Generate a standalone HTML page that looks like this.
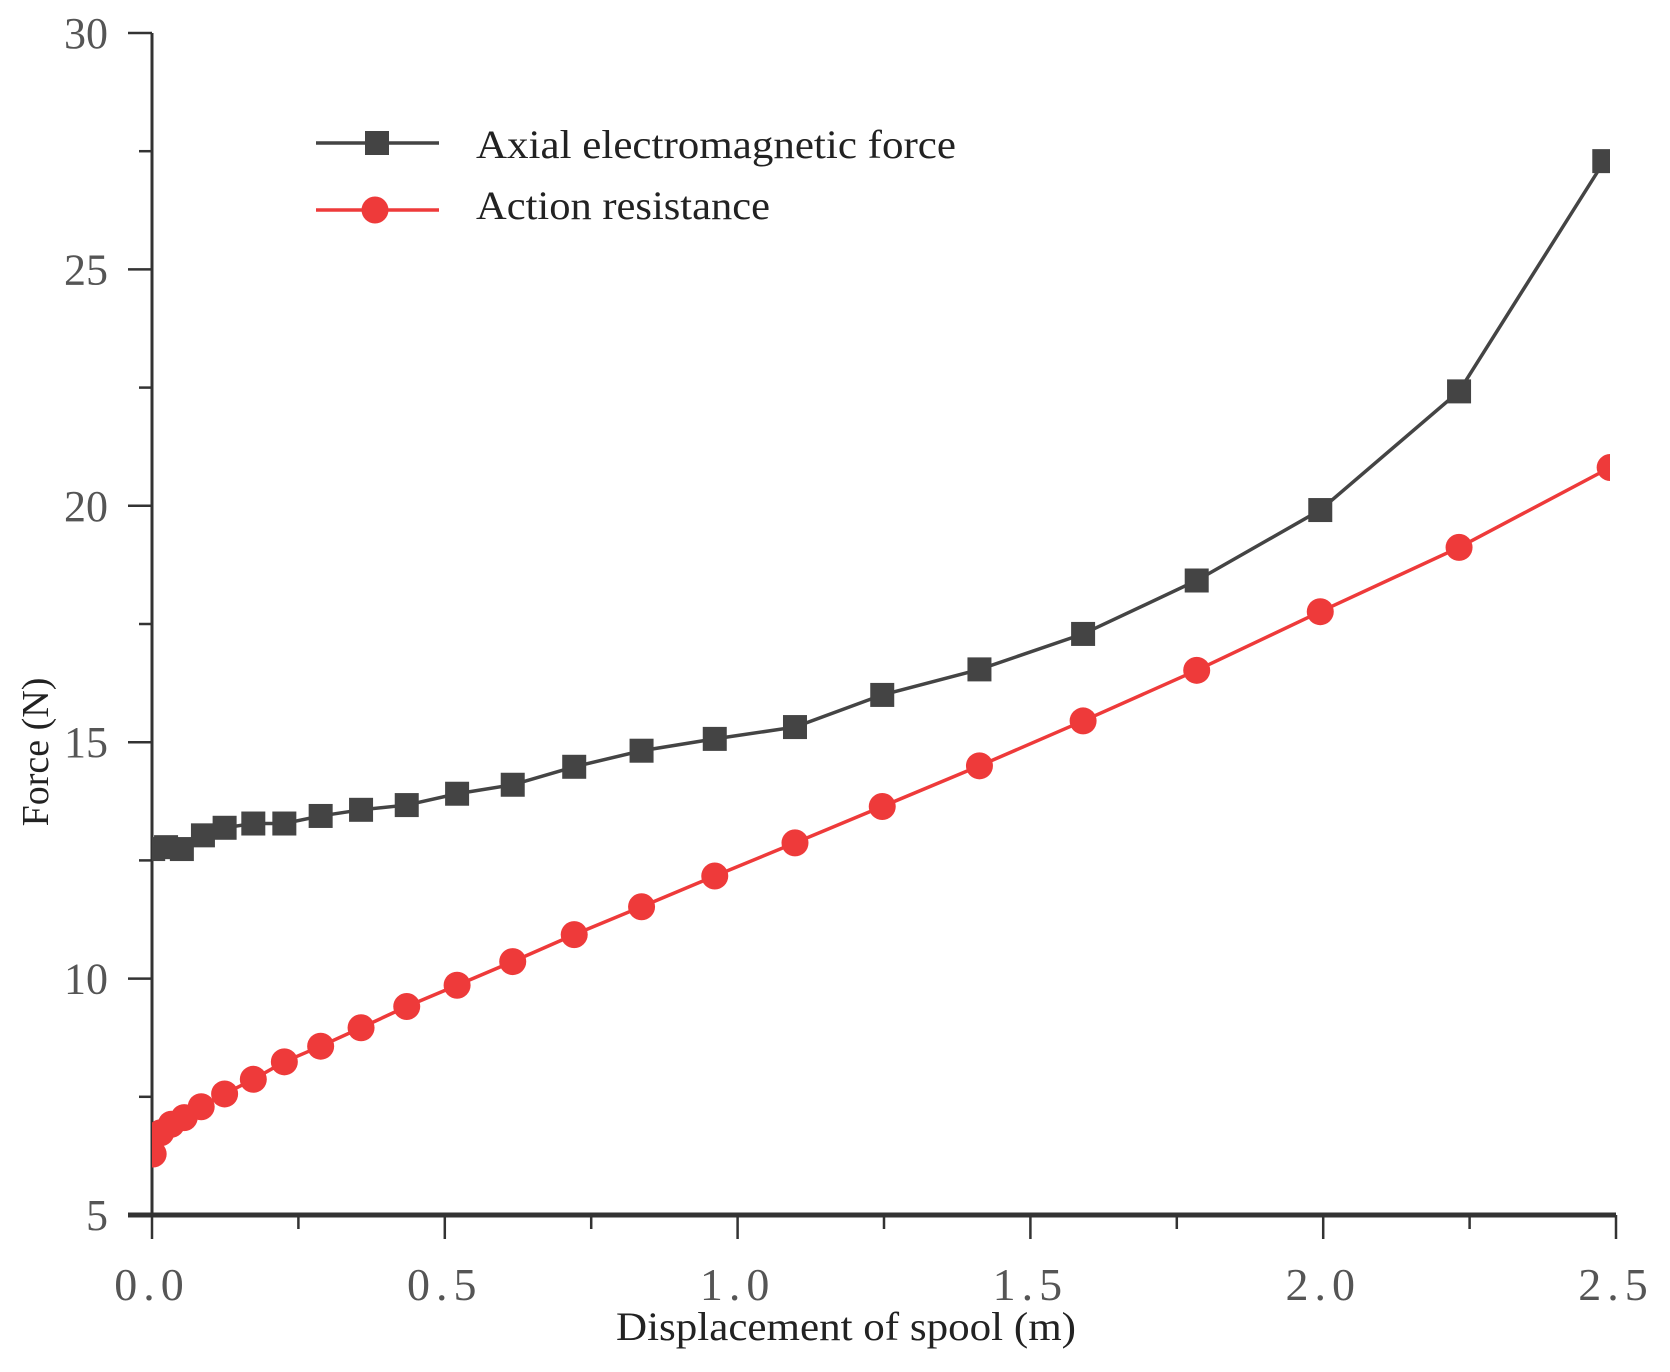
<!DOCTYPE html>
<html><head><meta charset="utf-8"><style>
html,body{margin:0;padding:0;background:#fff;}
svg{display:block;}
text{font-family:"Liberation Serif",serif;}
</style></head><body>
<svg id="chart" width="1670" height="1372" xmlns="http://www.w3.org/2000/svg">
<defs><clipPath id="plotclip"><rect x="152" y="0" width="1458" height="1215"/></clipPath></defs>
<g id="axes"></g>
<g id="series" clip-path="url(#plotclip)"></g>
<g id="legend"></g>
</svg>
<script>
const axialX=[0.002,0.024,0.051,0.087,0.124,0.173,0.226,0.288,0.357,0.435,0.521,0.616,0.721,0.836,0.961,1.098,1.247,1.413,1.590,1.784,1.995,2.232,2.480];
const axialForce=[12.74,12.78,12.74,13.03,13.19,13.28,13.28,13.44,13.57,13.67,13.91,14.10,14.48,14.82,15.07,15.32,16.00,16.54,17.29,18.42,19.91,22.42,27.29];
const resistX=[0.002,0.015,0.033,0.055,0.084,0.124,0.173,0.226,0.288,0.357,0.435,0.521,0.616,0.721,0.836,0.961,1.098,1.247,1.413,1.590,1.784,1.995,2.232,2.490];
const resistForce=[6.29,6.74,6.92,7.06,7.29,7.56,7.87,8.24,8.57,8.96,9.41,9.86,10.36,10.93,11.52,12.17,12.87,13.64,14.50,15.45,16.52,17.76,19.12,20.81];
const xTickLabels=["0.0","0.5","1.0","1.5","2.0","2.5"];
const yTickLabels=["5","10","15","20","25","30"];

const NS="http://www.w3.org/2000/svg";
const X0=152,X1=1616,Y0=1215,Y1=33,XMIN=0,XMAX=2.5,YMIN=5,YMAX=30;
const sx=v=>X0+(v-XMIN)/(XMAX-XMIN)*(X1-X0);
const sy=v=>Y0-(v-YMIN)/(YMAX-YMIN)*(Y0-Y1);
function mk(tag,attrs,parent){const e=document.createElementNS(NS,tag);for(const k in attrs)e.setAttribute(k,attrs[k]);parent.appendChild(e);return e;}
const axes=document.getElementById('axes'),series=document.getElementById('series'),legend=document.getElementById('legend');

let yl=mk('line',{x1:X0,y1:Y1,x2:X0,y2:Y0+2,stroke:'#333','stroke-width':3},axes);


let xl=mk('line',{x1:X0-24,y1:Y0,x2:X1,y2:Y0,stroke:'#333','stroke-width':5},axes);



for(let i=0;i<=10;i++){
  const v=i*0.25,x=sx(v),major=i%2===0;
  let t=mk('line',{x1:x,y1:Y0,x2:x,y2:Y0+(major?24:14),stroke:'#333','stroke-width':2.5},axes);
  
  
}
xTickLabels.forEach((s,i)=>{
  let t=mk('text',{x:sx(i*0.5),y:1300,'text-anchor':'middle','font-size':46,fill:'#555','letter-spacing':'6'},axes);
  t.textContent=s;
  
  
});
for(let i=0;i<=10;i++){
  const v=5+i*2.5,y=sy(v),major=i%2===0;
  let t=mk('line',{x1:X0,y1:y,x2:X0-(major?24:13),y2:y,stroke:'#333','stroke-width':2.5},axes);
  
  
}
yTickLabels.forEach((s,i)=>{
  let t=mk('text',{x:108,y:sy(5+i*5)+15,'text-anchor':'end','font-size':44,fill:'#555'},axes);
  t.textContent=s;
  
  
});
let xt=mk('text',{x:846,y:1340,'text-anchor':'middle','font-size':40,fill:'#222',textLength:460,lengthAdjust:'spacingAndGlyphs'},axes);
xt.textContent='Displacement of spool (m)';


let yt=mk('text',{x:0,y:0,'text-anchor':'middle','font-size':38,fill:'#222',transform:'translate(48,752) rotate(-90)'},axes);
yt.textContent='Force (N)';



function line(xs,ys,color,name){
  const pts=xs.map((x,i)=>sx(x)+','+sy(ys[i])).join(' ');
  let p=mk('polyline',{points:pts,fill:'none',stroke:color,'stroke-width':3.5},series);
  
  
}
line(axialX,axialForce,'#444','axial-force-line');
line(resistX,resistForce,'#ee3a3a','resistance-line');
axialX.forEach((x,i)=>{
  let r=mk('rect',{x:sx(x)-12,y:sy(axialForce[i])-12,width:24,height:24,fill:'#444'},series);
  
  
});
resistX.forEach((x,i)=>{
  let c=mk('circle',{cx:sx(x),cy:sy(resistForce[i]),r:13.5,fill:'#ee3a3a'},series);
  
  
});

let l1=mk('line',{x1:316,y1:143,x2:439,y2:143,stroke:'#444','stroke-width':3.5},legend);


let m1=mk('rect',{x:365,y:131,width:24,height:24,fill:'#444'},legend);


let t1=mk('text',{x:476,y:158,'font-size':40,fill:'#222',textLength:480,lengthAdjust:'spacingAndGlyphs'},legend);
t1.textContent='Axial electromagnetic force';


let l2=mk('line',{x1:316,y1:210,x2:439,y2:210,stroke:'#ee3a3a','stroke-width':3.5},legend);


let m2=mk('circle',{cx:375,cy:210,r:13.5,fill:'#ee3a3a'},legend);


let t2=mk('text',{x:476,y:219,'font-size':40,fill:'#222',textLength:294,lengthAdjust:'spacingAndGlyphs'},legend);
t2.textContent='Action resistance';


</script>
</body></html>
